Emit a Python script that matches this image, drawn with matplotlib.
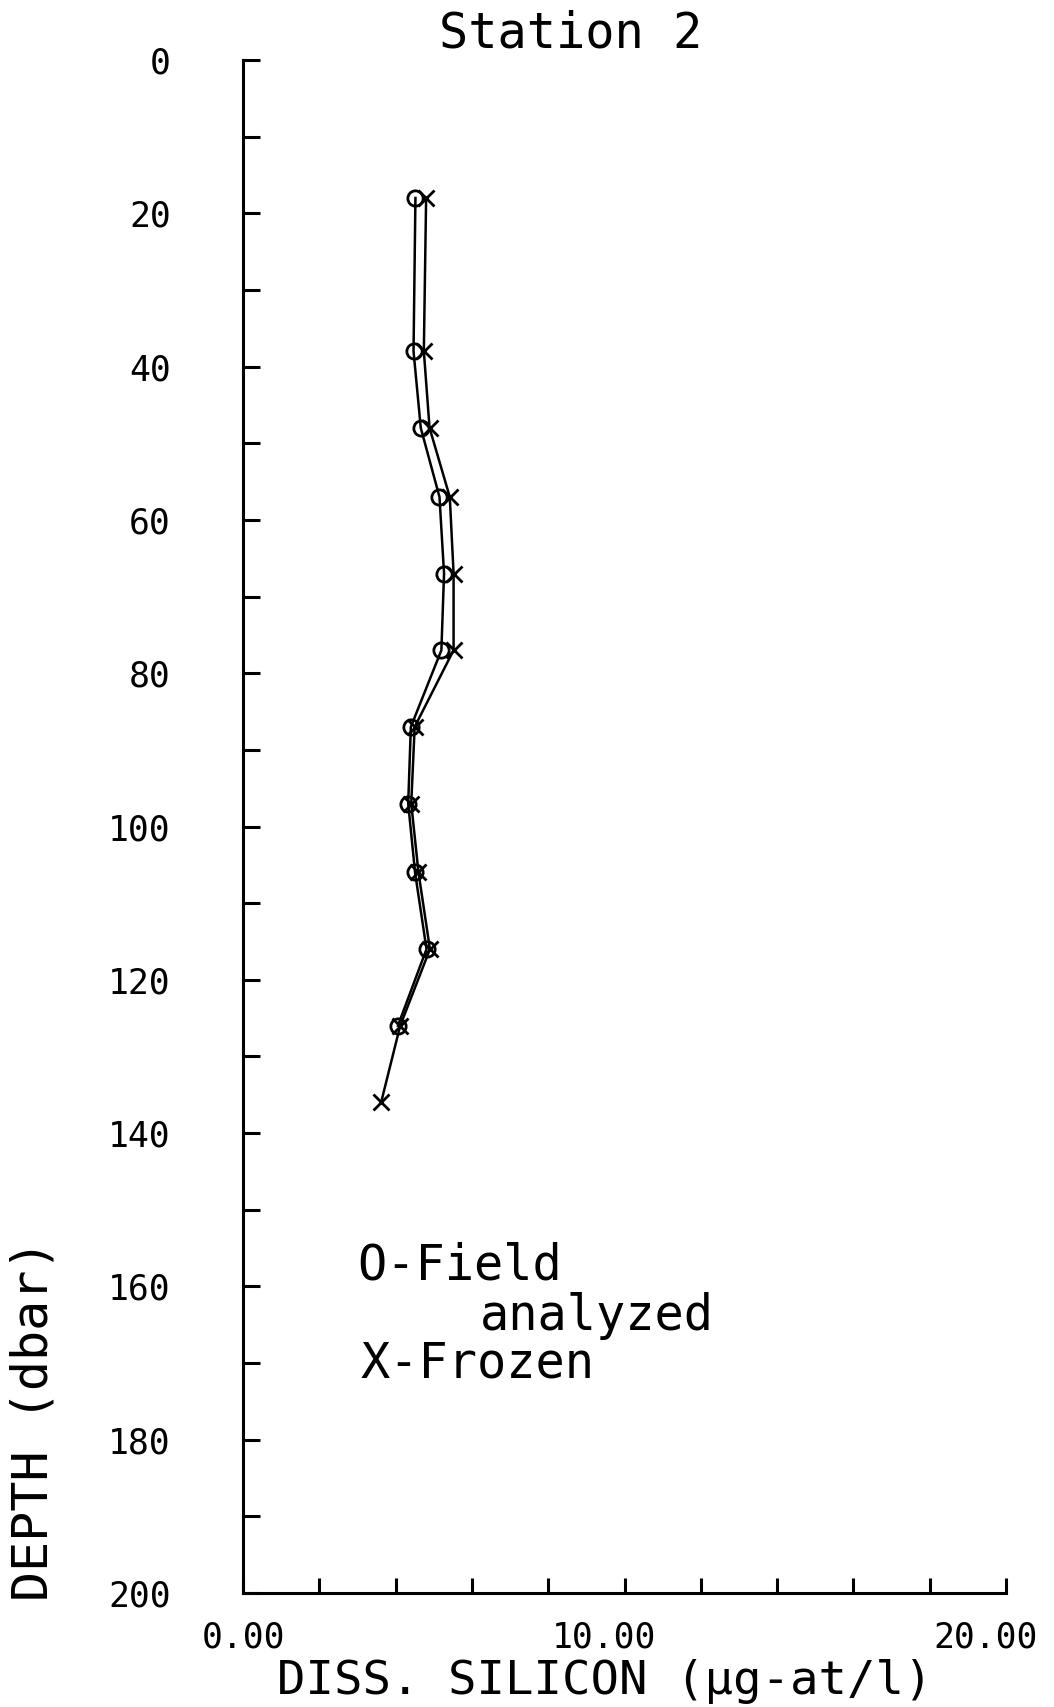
import matplotlib
matplotlib.use("Agg")
import matplotlib.pyplot as plt
from matplotlib.ticker import MultipleLocator, FuncFormatter
from matplotlib.transforms import ScaledTranslation

# ---- data ----
depth_field = [18, 38, 48, 57, 67, 77, 87, 97, 106, 116, 126]
si_field = [4.52, 4.47, 4.66, 5.15, 5.27, 5.20, 4.40, 4.33, 4.51, 4.81, 4.06]

depth_frozen = [18, 38, 48, 57, 67, 77, 87, 97, 106, 116, 126, 136]
si_frozen = [4.80, 4.74, 4.89, 5.42, 5.52, 5.52, 4.50, 4.41, 4.60, 4.90, 4.12, 3.62]

xtick_vals = [0, 10, 20]
xtick_labels = ["0.00", "10.00", "20.00"]

title = "Station 2"
xlabel = "DISS. SILICON (µg-at/l)"
ylabel = "DEPTH (dbar)"
legend_lines = ["O-Field", "analyzed", "X-Frozen"]

W, H = 1054, 1707
fig = plt.figure(figsize=(W / 100, H / 100), dpi=100)
FONT = "DejaVu Sans Mono"

left, right, top, bottom = 243, 1006, 60, 1593
ax = fig.add_axes([left / W, 1 - bottom / H, (right - left) / W, (bottom - top) / H])

ax.plot(si_field, depth_field, color="black", lw=1.8, marker="o", ms=11,
        mfc="none", mec="black", mew=2.0, zorder=3)
ax.plot(si_frozen, depth_frozen, color="black", lw=1.8, marker="x", ms=11,
        mec="black", mew=2.0, zorder=3)

ax.set_xlim(0, 20)
ax.set_ylim(200, 0)

for s in ["top", "right"]:
    ax.spines[s].set_visible(False)
for s in ["left", "bottom"]:
    ax.spines[s].set_linewidth(2.2)

# y ticks
ax.yaxis.set_major_locator(MultipleLocator(20))
ax.yaxis.set_minor_locator(MultipleLocator(10))
ax.yaxis.set_major_formatter(FuncFormatter(lambda v, p: f"{int(round(v))}"))
ax.tick_params(axis="y", which="both", direction="in", length=12, width=2.2,
               pad=52, labelsize=25)
# x ticks
ax.set_xticks(xtick_vals)
ax.set_xticklabels(xtick_labels)
ax.xaxis.set_minor_locator(MultipleLocator(2))
ax.tick_params(axis="x", which="both", direction="in", length=11, width=2.2,
               pad=20, labelsize=25)

for lab in ax.get_yticklabels() + ax.get_xticklabels():
    lab.set_fontfamily(FONT)

# shift the 10.00 / 20.00 labels a bit left like the plotter output
for lab in ax.get_xticklabels()[1:]:
    lab.set_transform(lab.get_transform() + ScaledTranslation(-20 / 100, 0, fig.dpi_scale_trans))

ax.set_xlabel(xlabel, fontsize=34, family=FONT)
ax.xaxis.set_label_coords(0.474, -0.043)

ax.set_ylabel(ylabel, fontsize=36, family=FONT)
ax.yaxis.label.set_va("center")
ax.yaxis.set_label_coords(-0.275, 0.113)

fig.text(571 / W, 1 - 33 / H, title, fontsize=35, family=FONT,
         ha="center", va="center")

fig.text(357 / W, 1 - 1280 / H, legend_lines[0], fontsize=35, family=FONT,
         ha="left", va="baseline")
fig.text(480 / W, 1 - 1330 / H, legend_lines[1], fontsize=35, family=FONT,
         ha="left", va="baseline")
fig.text(361 / W, 1 - 1377 / H, legend_lines[2], fontsize=35, family=FONT,
         ha="left", va="baseline")

fig.savefig("out.png", dpi=100, facecolor="white")
